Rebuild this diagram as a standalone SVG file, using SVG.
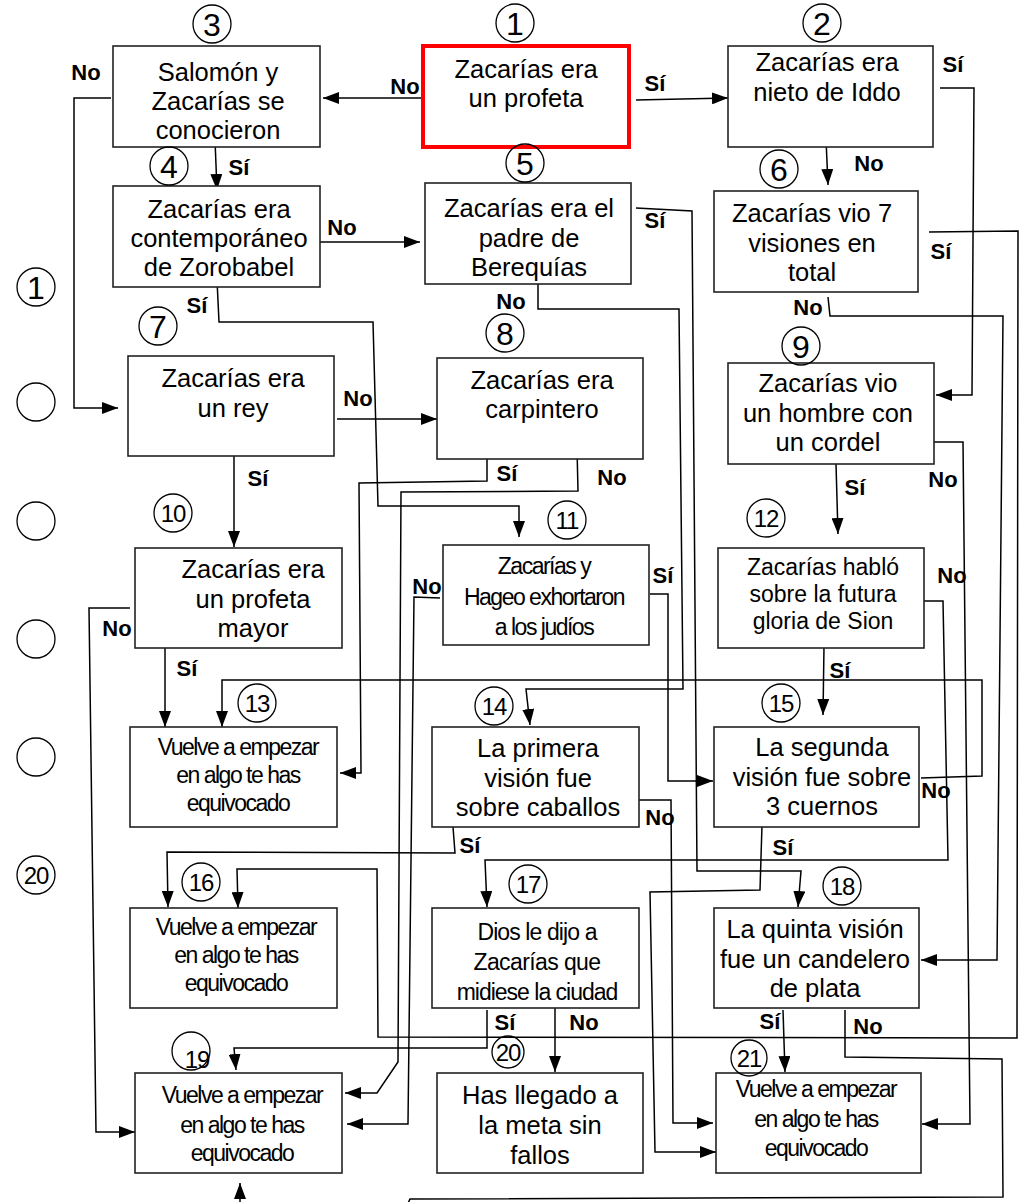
<svg xmlns="http://www.w3.org/2000/svg" width="1027" height="1202" viewBox="0 0 1027 1202">
<defs>
<marker id="ah" markerUnits="userSpaceOnUse" markerWidth="16" markerHeight="12" refX="16" refY="6" orient="auto">
<path d="M0,0 L16,6 L0,12 z" fill="#000"/>
</marker>
<style>
.box{fill:#fff;stroke:#222;stroke-width:1.6}
.red{fill:#fff;stroke:#f00;stroke-width:4}
.t{font-family:"Liberation Sans",Arial,sans-serif;font-size:25.5px;fill:#000;text-anchor:middle}
.s{font-family:"Liberation Sans",Arial,sans-serif;font-size:23px;fill:#000;text-anchor:middle;letter-spacing:-1.5px}
.m{font-family:"Liberation Sans",Arial,sans-serif;font-size:23px;fill:#000;text-anchor:middle}
.l{font-family:"Liberation Sans",Arial,sans-serif;font-size:22px;font-weight:bold;fill:#000;text-anchor:middle}
.c{fill:none;stroke:#000;stroke-width:1.3}
.n1{font-family:"Liberation Sans",Arial,sans-serif;font-size:32px;fill:#000;text-anchor:middle}
.n2{font-family:"Liberation Sans",Arial,sans-serif;font-size:24px;fill:#000;text-anchor:middle;letter-spacing:-1px}
.k{fill:none;stroke:#000;stroke-width:1.5;marker-end:url(#ah)}
</style>
</defs>
<rect width="1027" height="1202" fill="#fff"/>

<g id="connectors">
<path class="k" d="M423,98 L323,98"/>
<path class="k" d="M636,100 L728,98"/>
<path class="k" d="M940,88 L974,88 L972,395 L936,395"/>
<path class="k" d="M826,139 L828,185"/>
<path class="k" d="M215,140 L217,190"/>
<path class="k" d="M111,98 L74,98 L74,408 L118,408"/>
<path class="k" d="M320,242 L420,242"/>
<path class="k" d="M217,280 L219,322 L373,322 L378,506 L519,506 L519,537"/>
<path class="k" d="M636,208 L692,211 L697,871 L801,871 L798,907"/>
<path class="k" d="M538,278 L538,309 L679,309 L683,689 L526,689 L530,725"/>
<path class="k" d="M929,232 L1018,231 L1017,1038 L378,1037 L377,869 L237,869 L238,908"/>
<path class="k" d="M828,297 L830,316 L1003,316 L997,960 L921,960"/>
<path class="k" d="M337,419 L437,419"/>
<path class="k" d="M234,455 L234,547"/>
<path class="k" d="M487,457 L487,481 L359,483 L361,773 L340,773"/>
<path class="k" d="M577,448 L578,491 L401,492 L398,1062 L377,1093 L345,1093"/>
<path class="k" d="M836,464 L838,534"/>
<path class="k" d="M932,442 L963,442 L970,1124 L922,1124"/>
<path class="k" d="M130,608 L89,608 L96,1132 L135,1132"/>
<path class="k" d="M165,638 L165,727"/>
<path class="k" d="M650,594 L668,594 L668,781 L713,781"/>
<path class="k" d="M440,598 L414,597 L408,1124 L347,1124"/>
<path class="k" d="M824,646 L823,715"/>
<path class="k" d="M923,601 L943,601 L948,860 L485,860 L487,907"/>
<path class="k" d="M921,778 L982,776 L982,680 L222,680 L222,727"/>
<path class="k" d="M453,827 L455,853 L167,852 L168,907"/>
<path class="k" d="M639,800 L671,800 L673,1123 L713,1123"/>
<path class="k" d="M762,825 L760,890 L650,892 L655,1152 L716,1152"/>
<path class="k" d="M555,1007 L555,1072"/>
<path class="k" d="M487,1010 L487,1048 L234,1048 L236,1070"/>
<path class="k" d="M783,1010 L785,1072"/>
<path class="k" d="M845,1010 L845,1057 L1002,1059 L1003,1197 L410,1199 L404,1212 L240,1212 L240,1183"/>
</g>

<g id="labels">
<text class="l" x="86" y="80">No</text>
<text class="l" x="405" y="94">No</text>
<text class="l" x="655" y="91">Sí</text>
<text class="l" x="953" y="72">Sí</text>
<text class="l" x="869" y="171">No</text>
<text class="l" x="239" y="175">Sí</text>
<text class="l" x="342" y="235">No</text>
<text class="l" x="655" y="228">Sí</text>
<text class="l" x="941" y="259">Sí</text>
<text class="l" x="511" y="309">No</text>
<text class="l" x="197" y="313">Sí</text>
<text class="l" x="808" y="315">No</text>
<text class="l" x="358" y="406">No</text>
<text class="l" x="507" y="481">Sí</text>
<text class="l" x="612" y="485">No</text>
<text class="l" x="258" y="486">Sí</text>
<text class="l" x="855" y="495">Sí</text>
<text class="l" x="943" y="487">No</text>
<text class="l" x="663" y="583">Sí</text>
<text class="l" x="952" y="583">No</text>
<text class="l" x="427" y="594">No</text>
<text class="l" x="117" y="636">No</text>
<text class="l" x="187" y="676">Sí</text>
<text class="l" x="840" y="678">Sí</text>
<text class="l" x="660" y="825">No</text>
<text class="l" x="936" y="798">No</text>
<text class="l" x="470" y="853">Sí</text>
<text class="l" x="783" y="855">Sí</text>
<text class="l" x="505" y="1030">Sí</text>
<text class="l" x="584" y="1030">No</text>
<text class="l" x="770" y="1029">Sí</text>
<text class="l" x="868" y="1034">No</text>
</g>

<g id="side">
<circle class="c" cx="36" cy="287" r="19"/><text class="n1" x="36" y="299">1</text>
<circle class="c" cx="36" cy="402" r="19"/>
<circle class="c" cx="36" cy="521" r="19"/>
<circle class="c" cx="36" cy="639" r="19"/>
<circle class="c" cx="36" cy="757" r="19"/>
<circle class="c" cx="36" cy="875" r="19"/><text class="n2" x="36" y="884">20</text>
</g>

<g id="n1"><rect class="red" x="423" y="46" width="206" height="101"/><text class="t" x="526" y="78">Zacarías era</text><text class="t" x="526" y="107">un profeta</text><circle class="c" cx="515" cy="23" r="19"/><text class="n1" x="515" y="35">1</text></g>
<g id="n2"><rect class="box" x="728" y="46" width="205" height="101"/><text class="t" x="827" y="71">Zacarías era</text><text class="t" x="827" y="101">nieto de Iddo</text><circle class="c" cx="822" cy="23" r="19"/><text class="n1" x="822" y="35">2</text></g>
<g id="n3"><rect class="box" x="113" y="46" width="207" height="101"/><text class="t" x="218" y="81">Salomón y</text><text class="t" x="218" y="110">Zacarías se</text><text class="t" x="218" y="139">conocieron</text><circle class="c" cx="212" cy="24" r="19"/><text class="n1" x="212" y="36">3</text></g>
<g id="n4"><rect class="box" x="113" y="186" width="207" height="101"/><text class="t" x="219" y="218">Zacarías era</text><text class="t" x="219" y="247">contemporáneo</text><text class="t" x="219" y="276">de Zorobabel</text><circle class="c" cx="169" cy="166" r="19"/><text class="n1" x="169" y="178">4</text></g>
<g id="n5"><rect class="box" x="425" y="183" width="206" height="101"/><text class="t" x="529" y="217">Zacarías era el</text><text class="t" x="529" y="247">padre de</text><text class="t" x="529" y="276">Berequías</text><circle class="c" cx="525" cy="163" r="19"/><text class="n1" x="525" y="175">5</text></g>
<g id="n6"><rect class="box" x="714" y="191" width="204" height="101"/><text class="t" x="812" y="222">Zacarías vio 7</text><text class="t" x="812" y="252">visiones en</text><text class="t" x="812" y="281">total</text><circle class="c" cx="779" cy="169" r="19"/><text class="n1" x="779" y="181">6</text></g>
<g id="n7"><rect class="box" x="128" y="356" width="206" height="100"/><text class="t" x="233" y="387">Zacarías era</text><text class="t" x="233" y="417">un rey</text><circle class="c" cx="158" cy="326" r="19"/><text class="n1" x="158" y="338">7</text></g>
<g id="n8"><rect class="box" x="437" y="358" width="206" height="101"/><text class="t" x="542" y="389">Zacarías era</text><text class="t" x="542" y="418">carpintero</text><circle class="c" cx="505" cy="333" r="19"/><text class="n1" x="505" y="345">8</text></g>
<g id="n9"><rect class="box" x="728" y="363" width="206" height="101"/><text class="t" x="828" y="392">Zacarías vio</text><text class="t" x="828" y="422">un hombre con</text><text class="t" x="828" y="451">un cordel</text><circle class="c" cx="801" cy="346" r="19"/><text class="n1" x="801" y="358">9</text></g>
<g id="n10"><rect class="box" x="135" y="548" width="207" height="100"/><text class="t" x="253" y="578">Zacarías era</text><text class="t" x="253" y="608">un profeta</text><text class="t" x="253" y="637">mayor</text><circle class="c" cx="173" cy="513" r="19"/><text class="n2" x="173" y="522">10</text></g>
<g id="n11"><rect class="box" x="443" y="545" width="206" height="100"/><text class="s" x="544" y="574" letter-spacing="-1.1">Zacarías y</text><text class="s" x="544" y="605" letter-spacing="-1.2">Hageo exhortaron</text><text class="s" x="544" y="635" letter-spacing="-1.2">a los judíos</text><circle class="c" cx="567" cy="520" r="19"/><text class="n2" x="567" y="529">11</text></g>
<g id="n12"><rect class="box" x="718" y="548" width="206" height="100"/><text class="m" x="823" y="575">Zacarías habló</text><text class="m" x="823" y="602">sobre la futura</text><text class="m" x="823" y="629">gloria de Sion</text><circle class="c" cx="766" cy="518" r="19"/><text class="n2" x="766" y="527">12</text></g>
<g id="n13"><rect class="box" x="130" y="727" width="207" height="100"/><text class="s" x="238" y="755">Vuelve a empezar</text><text class="s" x="238" y="783">en algo te has</text><text class="s" x="238" y="811">equivocado</text><circle class="c" cx="257" cy="703" r="19"/><text class="n2" x="257" y="712">13</text></g>
<g id="n14"><rect class="box" x="432" y="727" width="207" height="100"/><text class="t" x="538" y="757">La primera</text><text class="t" x="538" y="787">visión fue</text><text class="t" x="538" y="816">sobre caballos</text><circle class="c" cx="494" cy="706" r="19"/><text class="n2" x="494" y="715">14</text></g>
<g id="n15"><rect class="box" x="714" y="727" width="205" height="100"/><text class="t" x="822" y="756">La segunda</text><text class="t" x="822" y="786">visión fue sobre</text><text class="t" x="822" y="815">3 cuernos</text><circle class="c" cx="781" cy="703" r="19"/><text class="n2" x="781" y="712">15</text></g>
<g id="n16"><rect class="box" x="130" y="908" width="207" height="100"/><text class="s" x="236" y="935">Vuelve a empezar</text><text class="s" x="236" y="963">en algo te has</text><text class="s" x="236" y="991">equivocado</text><circle class="c" cx="201" cy="882" r="19"/><text class="n2" x="201" y="891">16</text></g>
<g id="n17"><rect class="box" x="432" y="908" width="207" height="100"/><text class="m" x="537" y="940" letter-spacing="-0.9">Dios le dijo a</text><text class="m" x="537" y="970" letter-spacing="-0.6">Zacarías que</text><text class="m" x="537" y="1000" letter-spacing="-1">midiese la ciudad</text><circle class="c" cx="528" cy="884" r="19"/><text class="n2" x="528" y="893">17</text></g>
<g id="n18"><rect class="box" x="714" y="908" width="205" height="100"/><text class="t" x="815" y="938">La quinta visión</text><text class="t" x="815" y="968">fue un candelero</text><text class="t" x="815" y="997">de plata</text><circle class="c" cx="842" cy="886" r="19"/><text class="n2" x="842" y="895">18</text></g>
<g id="n19"><rect class="box" x="135" y="1073" width="207" height="100"/><text class="s" x="242" y="1103">Vuelve a empezar</text><text class="s" x="242" y="1133">en algo te has</text><text class="s" x="242" y="1161">equivocado</text><circle class="c" cx="191" cy="1051" r="19"/><text class="n2" x="197" y="1068">19</text></g>
<g id="n20"><rect class="box" x="437" y="1073" width="206" height="100"/><text class="t" x="540" y="1104">Has llegado a</text><text class="t" x="540" y="1134">la meta sin</text><text class="t" x="540" y="1164">fallos</text><circle class="c" cx="508" cy="1052" r="16"/><text class="n2" x="508" y="1061">20</text></g>
<g id="n21"><rect class="box" x="716" y="1073" width="205" height="100"/><text class="s" x="816" y="1097" letter-spacing="-1.7">Vuelve a empezar</text><text class="s" x="816" y="1127">en algo te has</text><text class="s" x="816" y="1156">equivocado</text><circle class="c" cx="749" cy="1058" r="18"/><text class="n2" x="749" y="1067">21</text></g>
</svg>
